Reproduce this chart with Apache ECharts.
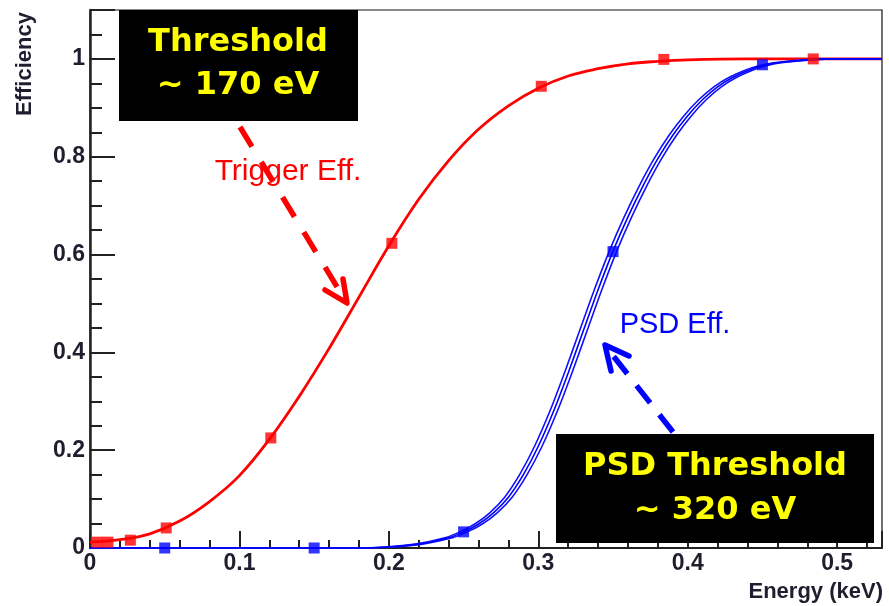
<!DOCTYPE html>
<html>
<head>
<meta charset="utf-8">
<script src="https://cdn.jsdelivr.net/npm/echarts@6/dist/echarts.min.js"></script>
<style>
  html, body { margin: 0; padding: 0; background: #ffffff; }
  #chart { width: 889px; height: 606px; }
</style>
</head>
<body>
<div id="chart"></div>
<script>
// Measured trigger efficiency (red squares)
const triggerE   = [0.005, 0.012, 0.027, 0.051, 0.121, 0.202, 0.302, 0.384, 0.484];
const triggerEff = [0.012, 0.012, 0.016, 0.041, 0.225, 0.623, 0.944, 0.999, 1.000];

// Fitted trigger efficiency curve
const triggerFitE   = [0.00, 0.02, 0.04, 0.06, 0.08, 0.10, 0.12, 0.14, 0.16, 0.18, 0.20, 0.22, 0.24, 0.26, 0.28, 0.30, 0.32, 0.34, 0.36, 0.38, 0.40, 0.44, 0.48, 0.53];
const triggerFitEff = [0.012, 0.017, 0.029, 0.055, 0.095, 0.148, 0.222, 0.310, 0.408, 0.513, 0.618, 0.713, 0.792, 0.856, 0.904, 0.940, 0.965, 0.980, 0.990, 0.995, 0.998, 1.000, 1.000, 1.000];

// Measured PSD efficiency (blue squares)
const psdE   = [0.05, 0.15, 0.25, 0.35, 0.45];
const psdEff = [0.000, 0.000, 0.033, 0.606, 0.988];

// Fitted PSD efficiency curve and its error band edges
const psdFitE = [0, 0.05, 0.10, 0.15, 0.18, 0.20, 0.22, 0.24, 0.25, 0.26, 0.27, 0.28, 0.29, 0.30, 0.31, 0.32, 0.33, 0.34, 0.35, 0.36, 0.37, 0.38, 0.39, 0.40, 0.41, 0.42, 0.43, 0.44, 0.45, 0.46, 0.48, 0.50, 0.53];
const psdBandUpperE = [0, 0.05, 0.10, 0.15, 0.178, 0.1975, 0.2175, 0.2375, 0.2475, 0.2575, 0.2675, 0.2775, 0.2875, 0.2975, 0.3075, 0.3175, 0.3275, 0.3375, 0.3475, 0.3575, 0.3675, 0.3775, 0.3875, 0.3975, 0.4075, 0.4175, 0.4275, 0.4375, 0.4475, 0.4575, 0.4775, 0.4975, 0.53];
const psdBandLowerE = [0, 0.05, 0.10, 0.15, 0.182, 0.2025, 0.2225, 0.2425, 0.2525, 0.2625, 0.2725, 0.2825, 0.2925, 0.3025, 0.3125, 0.3225, 0.3325, 0.3425, 0.3525, 0.3625, 0.3725, 0.3825, 0.3925, 0.4025, 0.4125, 0.4225, 0.4325, 0.4425, 0.4525, 0.4625, 0.4825, 0.5025, 0.53];
const psdFitEff = [0, 0, 0, 0, 0.000, 0.002, 0.008, 0.021, 0.033, 0.049, 0.072, 0.104, 0.150, 0.208, 0.278, 0.358, 0.443, 0.528, 0.607, 0.677, 0.740, 0.796, 0.844, 0.884, 0.917, 0.943, 0.962, 0.976, 0.986, 0.992, 0.998, 1.000, 1.000];

// Axis ranges and tick steps
const xRange = [0, 0.53];
const yRange = [0, 1.1];
const xMajorStep = 0.1, xMinorStep = 0.02;
const yMajorStep = 0.2, yMinorStep = 0.05;

const pairs = (xs, ys) => xs.map((x, i) => [x, ys[i]]);

const tickFont = '"Liberation Sans", Arial, sans-serif';
const textFont = '"Liberation Sans", Arial, sans-serif';
const boxFont  = '"DejaVu Sans", "Liberation Sans", sans-serif';
const axisColor = '#222222';

function fmtMultiple(step) {
  return function (v) {
    const k = Math.round(v / step);
    if (Math.abs(v / step - k) > 1e-6) return '';
    const val = +(k * step).toFixed(2);
    return String(val);
  };
}

const chart = echarts.init(document.getElementById('chart'), null, { renderer: 'canvas' });

chart.setOption({
  animation: false,
  backgroundColor: '#ffffff',
  grid: {
    left: 90, top: 10, right: 7, bottom: 58,
    show: true, borderColor: '#111111', borderWidth: 1.2, backgroundColor: 'transparent'
  },
  xAxis: [
    {
      type: 'value', position: 'bottom', min: xRange[0], max: xRange[1], interval: xMajorStep,
      axisLine: { show: true, onZero: false, lineStyle: { color: axisColor, width: 2 } },
      axisTick: { show: true, inside: true, length: 17, lineStyle: { color: axisColor, width: 2 } },
      axisLabel: {
        show: true, margin: 4, color: '#1e1e2e',
        fontFamily: tickFont, fontWeight: 'bold', fontSize: 23,
        formatter: fmtMultiple(xMajorStep)
      },
      splitLine: { show: false }
    },
    {
      type: 'value', position: 'bottom', min: xRange[0], max: xRange[1], interval: xMinorStep,
      axisLine: { show: false, onZero: false },
      axisTick: { show: true, inside: true, length: 8, lineStyle: { color: axisColor, width: 2 } },
      axisLabel: { show: false },
      splitLine: { show: false }
    }
  ],
  yAxis: [
    {
      type: 'value', position: 'left', min: yRange[0], max: yRange[1], interval: yMajorStep,
      axisLine: { show: true, onZero: false, lineStyle: { color: axisColor, width: 2.5 } },
      axisTick: { show: true, inside: true, length: 25, lineStyle: { color: axisColor, width: 2 } },
      axisLabel: {
        show: true, margin: 5, color: '#1e1e2e',
        fontFamily: tickFont, fontWeight: 'bold', fontSize: 23,
        formatter: fmtMultiple(yMajorStep)
      },
      splitLine: { show: false }
    },
    {
      type: 'value', position: 'left', min: yRange[0], max: yRange[1], interval: yMinorStep,
      axisLine: { show: false, onZero: false },
      axisTick: { show: true, inside: true, length: 12, lineStyle: { color: axisColor, width: 2 } },
      axisLabel: { show: false },
      splitLine: { show: false }
    }
  ],
  series: [
    {
      name: 'Trigger fit', type: 'line', xAxisIndex: 0, yAxisIndex: 0,
      data: pairs(triggerFitE, triggerFitEff), smooth: 0.4, showSymbol: false,
      lineStyle: { color: '#ff0000', width: 2.8 }, z: 3
    },
    {
      name: 'PSD band upper', type: 'line', xAxisIndex: 0, yAxisIndex: 0,
      data: pairs(psdBandUpperE, psdFitEff), smooth: 0.3, showSymbol: false,
      lineStyle: { color: '#1010ff', width: 1.6 }, z: 4
    },
    {
      name: 'PSD band lower', type: 'line', xAxisIndex: 0, yAxisIndex: 0,
      data: pairs(psdBandLowerE, psdFitEff), smooth: 0.3, showSymbol: false,
      lineStyle: { color: '#1010ff', width: 1.6 }, z: 4
    },
    {
      name: 'PSD fit', type: 'line', xAxisIndex: 0, yAxisIndex: 0,
      data: pairs(psdFitE, psdFitEff), smooth: 0.3, showSymbol: false,
      lineStyle: { color: '#0000ff', width: 1.6 }, z: 4
    },
    {
      name: 'PSD Eff.', type: 'scatter', xAxisIndex: 0, yAxisIndex: 0,
      data: pairs(psdE, psdEff), symbol: 'rect', symbolSize: 11,
      itemStyle: { color: '#0000ff' }, z: 5
    },
    {
      name: 'Trigger Eff.', type: 'scatter', xAxisIndex: 0, yAxisIndex: 0,
      data: pairs(triggerE, triggerEff), symbol: 'rect', symbolSize: 11,
      itemStyle: { color: '#ff0000' }, z: 6
    }
  ],
  graphic: [
    // axis titles
    {
      type: 'text', x: 25, y: 64, rotation: Math.PI / 2, z: 10,
      style: { text: 'Efficiency', fill: '#1e1e2e', font: 'bold 22px ' + textFont, align: 'center', verticalAlign: 'middle' }
    },
    {
      type: 'text', x: 883, y: 592, z: 10,
      style: { text: 'Energy (keV)', fill: '#1e1e2e', font: 'bold 22px ' + textFont, align: 'right', verticalAlign: 'middle' }
    },
    // curve labels
    {
      type: 'text', x: 288, y: 172, z: 10,
      style: { text: 'Trigger Eff.', fill: '#ff0000', font: '30px ' + textFont, align: 'center', verticalAlign: 'middle' }
    },
    {
      type: 'text', x: 675, y: 325, z: 10,
      style: { text: 'PSD Eff.', fill: '#0000ff', font: '29px ' + textFont, align: 'center', verticalAlign: 'middle' }
    },
    // trigger threshold callout
    { type: 'rect', z: 20, shape: { x: 119, y: 10, width: 239, height: 111 }, style: { fill: '#000000' } },
    {
      type: 'text', x: 238, y: 43, z: 21,
      style: { text: 'Threshold', fill: '#ffff00', font: 'bold 32px ' + boxFont, align: 'center', verticalAlign: 'middle' }
    },
    {
      type: 'text', x: 238, y: 86, z: 21,
      style: { text: '~ 170 eV', fill: '#ffff00', font: 'bold 32px ' + boxFont, align: 'center', verticalAlign: 'middle' }
    },
    {
      type: 'line', z: 20, shape: { x1: 240, y1: 127, x2: 345, y2: 300 },
      style: { stroke: '#ff0000', lineWidth: 5.5, lineDash: [23, 18] }
    },
    {
      type: 'polyline', z: 20, shape: { points: [[325, 290], [347, 303], [343, 279]] },
      style: { stroke: '#ff0000', lineWidth: 5.5, fill: null, lineCap: 'round', lineJoin: 'round' }
    },
    // PSD threshold callout
    { type: 'rect', z: 20, shape: { x: 556, y: 434, width: 318, height: 109 }, style: { fill: '#000000' } },
    {
      type: 'text', x: 715, y: 467, z: 21,
      style: { text: 'PSD Threshold', fill: '#ffff00', font: 'bold 32px ' + boxFont, align: 'center', verticalAlign: 'middle' }
    },
    {
      type: 'text', x: 715, y: 511, z: 21,
      style: { text: '~ 320 eV', fill: '#ffff00', font: 'bold 32px ' + boxFont, align: 'center', verticalAlign: 'middle' }
    },
    {
      type: 'line', z: 20, shape: { x1: 673, y1: 432, x2: 607, y2: 348 },
      style: { stroke: '#0000ff', lineWidth: 5.5, lineDash: [22, 15] }
    },
    {
      type: 'polyline', z: 20, shape: { points: [[611, 371], [605, 345], [629, 356]] },
      style: { stroke: '#0000ff', lineWidth: 5.5, fill: null, lineCap: 'round', lineJoin: 'round' }
    }
  ]
});
</script>
</body>
</html>
